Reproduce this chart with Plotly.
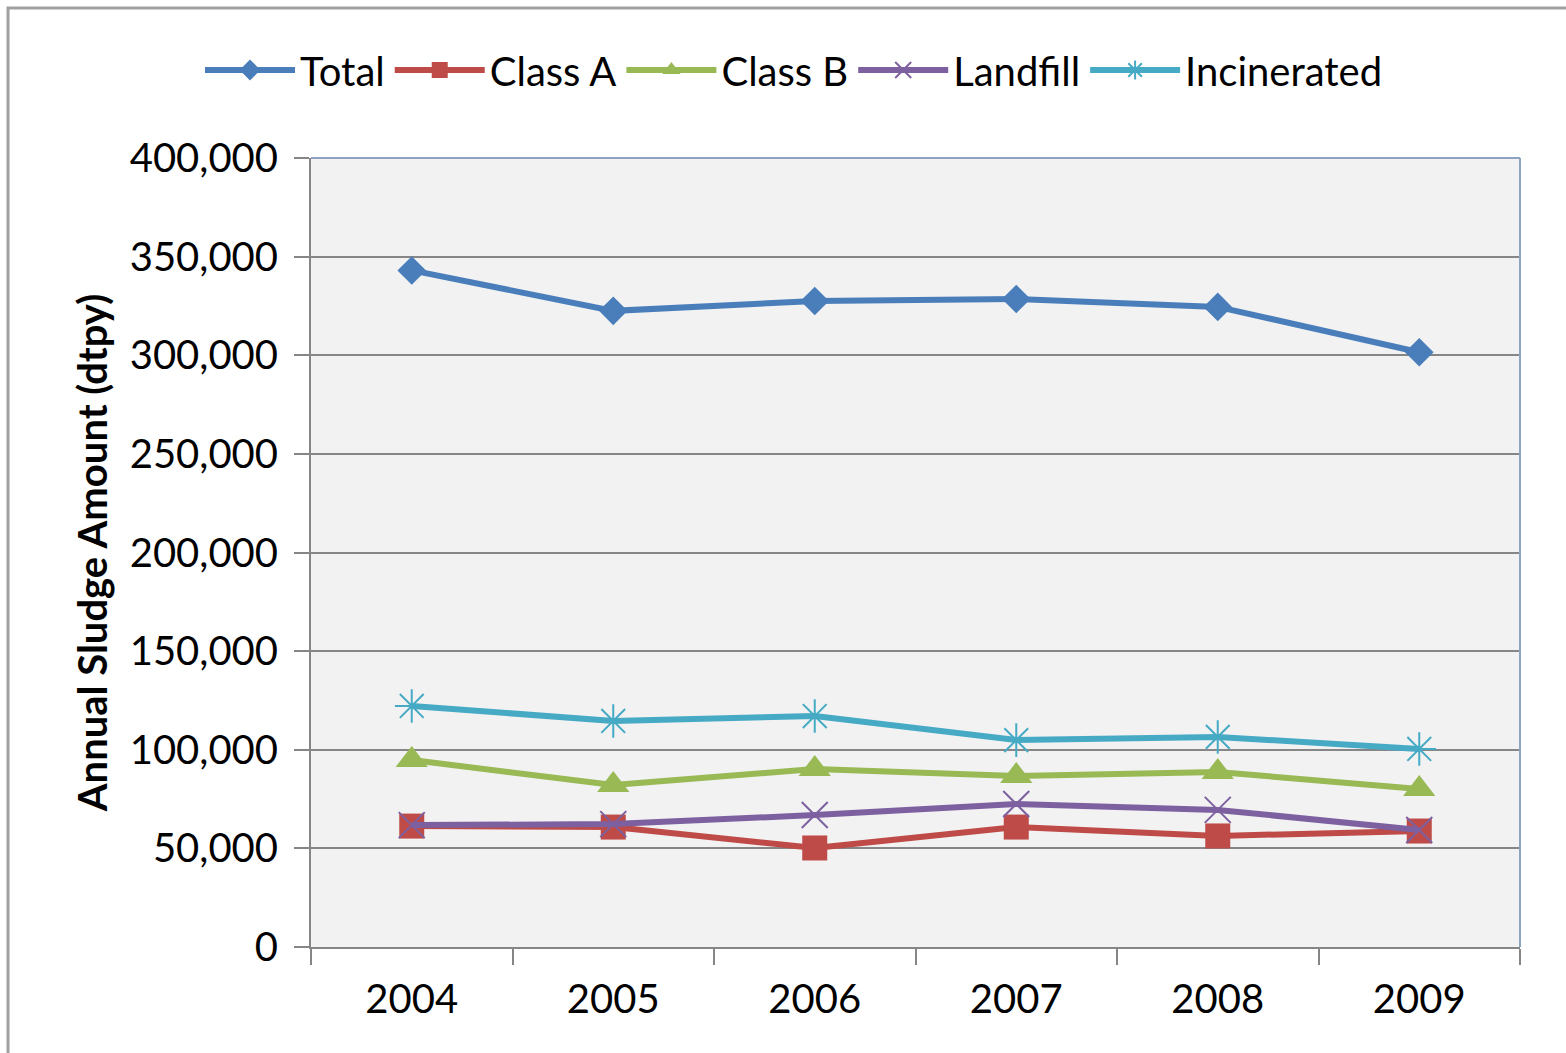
import plotly.graph_objects as go

years = ["2004", "2005", "2006", "2007", "2008", "2009"]
total = [343000, 322500, 327500, 328500, 324500, 301500]
class_a = [61300, 60800, 50200, 60800, 56300, 58800]
class_b = [94800, 82100, 90200, 86700, 88700, 80100]
landfill = [61800, 62300, 66900, 72500, 69500, 59300]
incinerated = [122200, 114600, 117100, 104900, 106500, 100400]

series = [
    ("Total", total, "#4A7EBB", "diamond", 22, 0),
    ("Class A", class_a, "#BE4B48", "square", 25, 0),
    ("Class B", class_b, "#98B954", "triangle-up", 28, 0),
    ("Landfill", landfill, "#7D60A0", "x-thin-open", 26, 2),
    ("Incinerated", incinerated, "#46AAC5", "asterisk-open", 28, 2),
]

fig = go.Figure()
for name, vals, color, sym, size, lw in series:
    marker = dict(symbol=sym, size=size, color=color)
    if lw:
        marker["line"] = dict(color=color, width=lw)
    fig.add_trace(go.Scatter(
        x=years, y=vals, name=name, mode="lines+markers",
        line=dict(color=color, width=6), marker=marker,
    ))

font_main = "Lato, 'Open Sans', sans-serif"

fig.update_layout(
    width=1566, height=1053,
    margin=dict(l=311, r=46, t=158, b=106, autoexpand=False),
    paper_bgcolor="white",
    plot_bgcolor="#F2F2F2",
    font=dict(family=font_main, color="black", size=40),
    showlegend=True,
    legend=dict(
        orientation="h", xref="container", yref="container",
        x=794 / 1566, xanchor="center", y=1 - 70 / 1053, yanchor="middle",
        font=dict(size=40, family=font_main, color="black"),
        itemwidth=90, tracegroupgap=0, bgcolor="rgba(0,0,0,0)",
    ),
    xaxis=dict(
        type="category", range=[-0.5, 5.5], tickson="boundaries",
        ticks="outside", ticklen=16, tickcolor="#868686", tickwidth=2,
        showline=True, linecolor="#868686", linewidth=2,
        showgrid=False, ticklabelstandoff=16,
        tickfont=dict(size=40, family=font_main, color="black"),
    ),
    yaxis=dict(
        range=[0, 400000], dtick=50000, tickformat=",d",
        ticks="outside", ticklen=15, tickcolor="#868686", tickwidth=2,
        showline=True, linecolor="#868686", linewidth=2,
        showgrid=True, gridcolor="#868686", gridwidth=2, zeroline=False,
        ticklabelstandoff=8,
        tickfont=dict(size=40, family=font_main, color="black"),
        title=dict(text="<b>Annual Sludge Amount (dtpy)</b>", standoff=10,
                   font=dict(size=40, family=font_main, color="black")),
    ),
    shapes=[
        dict(type="line", xref="paper", yref="paper", x0=0, x1=1, y0=1, y1=1,
             line=dict(color="#8EA3C4", width=2)),
        dict(type="line", xref="paper", yref="paper", x0=1, x1=1, y0=0, y1=1,
             line=dict(color="#8EA3C4", width=2)),
        dict(type="rect", xref="paper", yref="paper",
             x0=-0.2506, x1=1.2, y0=-0.3, y1=1.19,
             line=dict(color="#A0A0A0", width=3), layer="below"),
    ],
)

fig.write_html("out.html")
